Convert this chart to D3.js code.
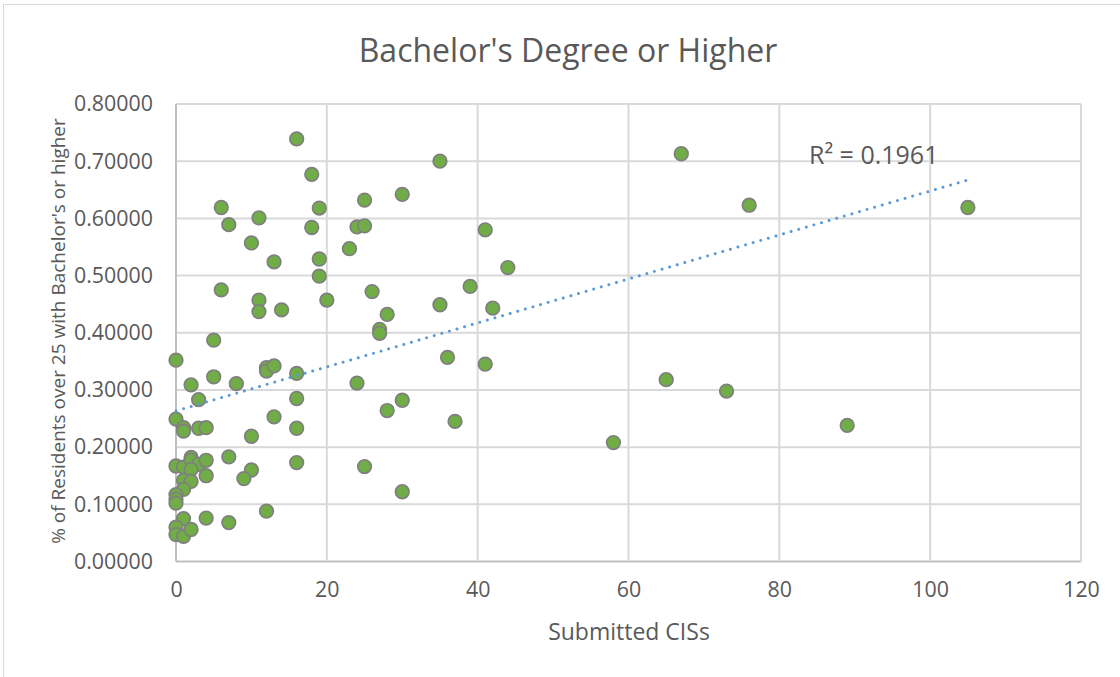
<!DOCTYPE html>
<html lang="en">
<head>
    <meta charset="UTF-8">
    <title>Bachelor's Degree or Higher</title>
    <script src="https://d3js.org/d3.v7.min.js"></script>
</head>
<body>
</body>
<style>
    *{
        margin:0;
        padding:0;
    }
    body {
        background: #fff;
    }
    text {
        font-family: "Open Sans", sans-serif;
        fill: #595959;
    }
</style>
<script>
    // values
    var submittedCIS = [
        0, 5, 12, 12, 13, 16, 2, 5, 8, 3, 16, 0, 1, 1, 3, 4, 13, 10, 16,
        0, 1, 2, 2, 3, 4, 2, 4, 1, 2, 1, 7, 10, 9, 16, 0, 0, 0, 1, 4, 7, 12,
        0, 0, 1, 2,
        16, 18, 6, 19, 11, 7, 18, 10, 13, 19, 19, 6, 11, 11, 14, 20,
        35, 25, 30, 24, 25, 23, 41, 44, 26, 39, 35, 42, 28, 27, 27, 36, 41,
        24, 30, 28, 37, 25, 30,
        58, 65, 67, 73, 76, 89, 105
    ];
    var bachelorShare = [
        0.352, 0.387, 0.339, 0.333, 0.342, 0.329, 0.309, 0.323, 0.311, 0.283, 0.285, 0.249, 0.234, 0.228, 0.233, 0.234, 0.253, 0.219, 0.233,
        0.167, 0.165, 0.182, 0.177, 0.170, 0.177, 0.161, 0.150, 0.142, 0.140, 0.126, 0.183, 0.160, 0.145, 0.173, 0.117, 0.109, 0.102, 0.075, 0.076, 0.068, 0.088,
        0.060, 0.047, 0.044, 0.056,
        0.739, 0.677, 0.619, 0.618, 0.601, 0.589, 0.584, 0.557, 0.524, 0.529, 0.499, 0.475, 0.457, 0.437, 0.440, 0.457,
        0.700, 0.632, 0.642, 0.585, 0.587, 0.547, 0.580, 0.514, 0.472, 0.481, 0.449, 0.443, 0.432, 0.406, 0.399, 0.357, 0.345,
        0.312, 0.282, 0.264, 0.245, 0.166, 0.122,
        0.208, 0.318, 0.713, 0.298, 0.623, 0.238, 0.619
    ];
    var xTicks = [0, 20, 40, 60, 80, 100, 120];
    var yTicks = [0, 0.1, 0.2, 0.3, 0.4, 0.5, 0.6, 0.7, 0.8];
    var rSquaredLabel = "R\u00B2 = 0.1961";

    var width = 1120,
        height = 677;
    var margin = {top: 104, right: 39, bottom: 115.5, left: 176};

    var svg = d3.select("body")
                .append("svg")
                .attr("width", width)
                .attr("height", height)

    // chart frame (only top and left edges show in the crop)
    svg.append("rect")
        .attr("x", 3.5)
        .attr("y", 4.5)
        .attr("width", width + 20)
        .attr("height", height + 20)
        .style("fill", "none")
        .style("stroke", "#d9d9d9")

    var x = d3.scaleLinear()
                .domain([0, 120])
                .range([margin.left, width - margin.right])
    var y = d3.scaleLinear()
                .domain([0, 0.8])
                .range([height - margin.bottom, margin.top])

    // gridlines
    svg.selectAll("line.hgrid")
        .data(yTicks)
        .enter()
        .append("line")
        .attr("class", "hgrid")
        .attr("x1", x(0))
        .attr("x2", x(120))
        .attr("y1", function(d){return y(d)})
        .attr("y2", function(d){return y(d)})
        .style("stroke", function(d){return d === 0 ? "#bfbfbf" : "#d9d9d9"})
        .style("stroke-width", 2)
    svg.selectAll("line.vgrid")
        .data(xTicks)
        .enter()
        .append("line")
        .attr("class", "vgrid")
        .attr("y1", y(0))
        .attr("y2", y(0.8))
        .attr("x1", function(d){return x(d)})
        .attr("x2", function(d){return x(d)})
        .style("stroke", function(d){return d === 0 ? "#bfbfbf" : "#d9d9d9"})
        .style("stroke-width", 2)

    // axes (labels only, lines drawn as grid above)
    var xAxis = svg.append("g")
        .attr("transform", "translate(0," + y(0) + ")")
        .call(d3.axisBottom(x).tickValues(xTicks).tickSize(0).tickPadding(20))
    var yAxis = svg.append("g")
        .attr("transform", "translate(" + x(0) + ",0)")
        .call(d3.axisLeft(y).tickValues(yTicks).tickSize(0).tickPadding(23).tickFormat(d3.format(".5f")))
    svg.selectAll(".domain").remove()
    svg.selectAll(".tick text")
        .style("font-size", "21.4px")
        .style("font-family", "'Open Sans', sans-serif")
        .style("fill", "#595959")

    // title + axis titles
    svg.append("text")
        .attr("x", 568)
        .attr("y", 62)
        .attr("text-anchor", "middle")
        .style("font-size", "32px")
        .text("Bachelor's Degree or Higher")
    svg.append("text")
        .attr("x", 629)
        .attr("y", 640)
        .attr("text-anchor", "middle")
        .style("font-size", "23px")
        .text("Submitted CISs")
    svg.append("text")
        .attr("transform", "translate(65," + 331 + ") rotate(-90)")
        .attr("text-anchor", "middle")
        .style("font-size", "19px")
        .text("% of Residents over 25 with Bachelor's or higher")

    // linear trendline from the points
    var n = submittedCIS.length;
    var mx = d3.mean(submittedCIS), my = d3.mean(bachelorShare);
    var sxy = 0, sxx = 0;
    for(let i = 0; i < n; i++) {
        sxy += (submittedCIS[i] - mx) * (bachelorShare[i] - my);
        sxx += (submittedCIS[i] - mx) * (submittedCIS[i] - mx);
    }
    var slope = sxy / sxx;
    var intercept = my - slope * mx;
    var xEnds = d3.extent(submittedCIS);

    var points = submittedCIS.map(function(d, i){return [d, bachelorShare[i]]});

    svg.selectAll("circle")
        .data(points)
        .enter()
        .append("circle")
        .attr("cx", function(d){return x(d[0])})
        .attr("cy", function(d){return y(d[1])})
        .attr("r", 6.8)
        .style("fill", "#70ad47")
        .style("stroke", "#7f7f7f")
        .style("stroke-width", 1.7)

    svg.append("line")
        .attr("x1", x(xEnds[0]))
        .attr("y1", y(intercept + slope * xEnds[0]))
        .attr("x2", x(xEnds[1]))
        .attr("y2", y(intercept + slope * xEnds[1]))
        .style("stroke", "#5b9bd5")
        .style("stroke-width", 3)
        .style("stroke-linecap", "round")
        .style("stroke-dasharray", "0.01,7.9")

    svg.append("text")
        .attr("x", 809)
        .attr("y", 164)
        .style("font-size", "25px")
        .text(rSquaredLabel)
</script>
</html>
